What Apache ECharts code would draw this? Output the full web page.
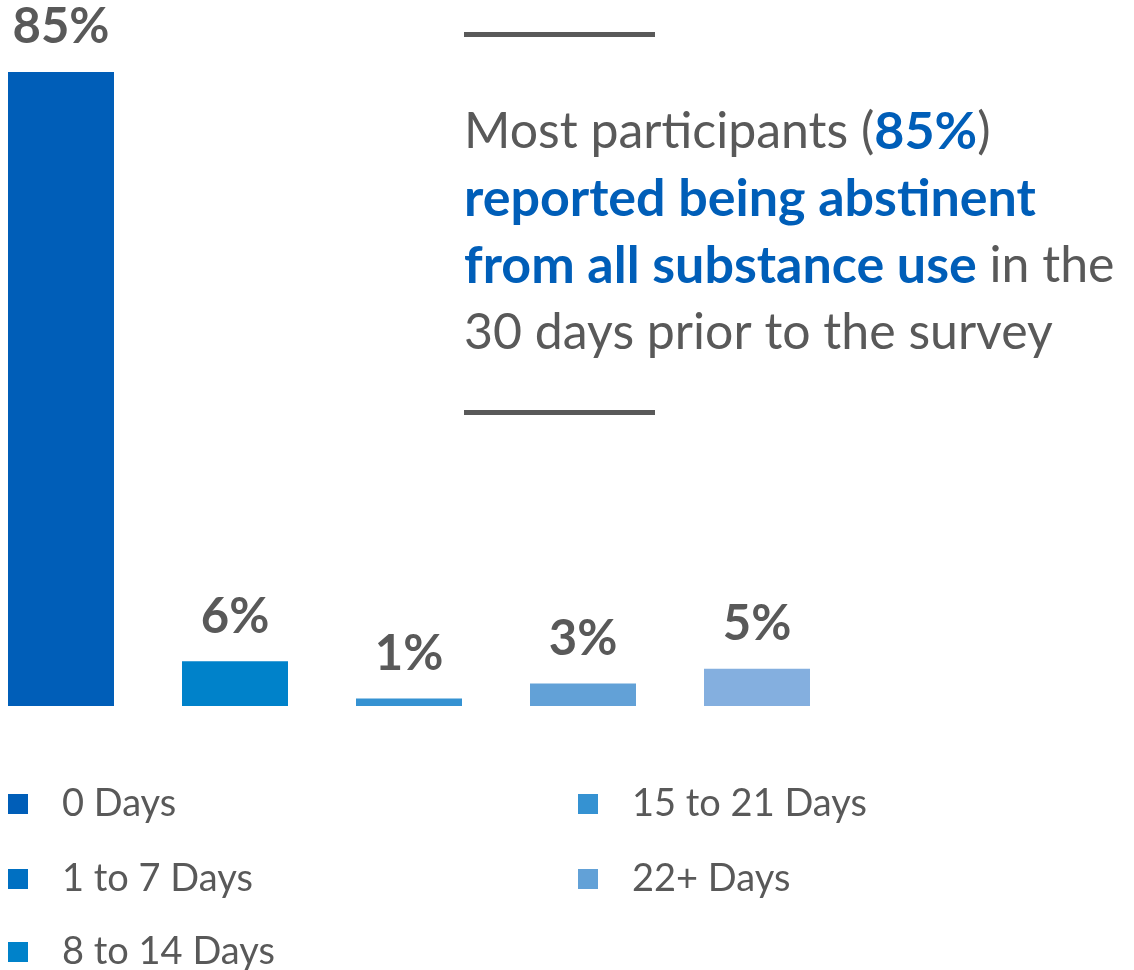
<!DOCTYPE html>
<html>
<head>
<meta charset="utf-8">
<script src="https://cdn.jsdelivr.net/npm/echarts@6/dist/echarts.min.js"></script>
<style>
  html, body { margin: 0; padding: 0; background: #fff; }
  #main { width: 1134px; height: 970px; }
</style>
</head>
<body>
<div id="main"></div>
<script>
  // categories and values
  const categories = ['0 Days', '1 to 7 Days', '8 to 14 Days', '15 to 21 Days', '22+ Days'];
  const values = [85, 6, 1, 3, 5];
  const barColors = ['#005EB8', '#0082CA', '#3592D2', '#62A1D7', '#84AFDF'];
  const legendColors = ['#005EB8', '#0070C2', '#0082CA', '#3592D2', '#62A1D7'];

  const grey = '#595959';
  const blue = '#005EB8';
  const font = 'Lato';

  // where each legend entry sits (two columns)
  const legendSpots = [[8, 785], [8, 860], [8, 933], [578, 785], [578, 860]];

  const myChart = echarts.init(document.getElementById('main'));

  // one series per category so each shows in the legend
  const series = categories.map((name, i) => ({
    name: name,
    type: 'bar',
    stack: 'all',
    barWidth: 106,
    itemStyle: { color: barColors[i] },
    label: {
      show: true,
      position: 'top',
      distance: 20,
      formatter: '{c}%',
      color: grey,
      fontFamily: font,
      fontWeight: 'bold',
      fontSize: 49
    },
    data: values.map((v, j) => (j === i ? v : '-'))
  }));

  const legends = categories.map((name, i) => ({
    left: legendSpots[i][0], top: legendSpots[i][1], padding: 0,
    icon: 'rect', itemWidth: 20, itemHeight: 20,
    textStyle: { color: grey, fontFamily: font, fontSize: 38, lineHeight: 34, padding: [0, 0, 0, 29] },
    data: [{ name: name, itemStyle: { color: legendColors[i] } }]
  }));

  myChart.setOption({
    animation: false,
    grid: { left: 61, width: 696, top: 72, bottom: 264, containLabel: false },
    xAxis: {
      type: 'category',
      data: categories,
      boundaryGap: false,
      show: false
    },
    yAxis: { type: 'value', min: 0, max: 85, show: false },
    legend: legends,
    graphic: [
      { type: 'rect', left: 464, top: 32, shape: { width: 191, height: 5 }, style: { fill: grey } },
      { type: 'rect', left: 464, top: 410, shape: { width: 191, height: 5 }, style: { fill: grey } },
      {
        type: 'text', left: 464, top: 106,
        style: {
          text: '{n|Most participants (}{b|85%}{n|)}\n' +
                '{b|reported being abstinent}\n' +
                '{b|from all substance use}{n| in the}\n' +
                '{n|30 days prior to the survey}',
          fill: grey,
          rich: {
            n: { fontFamily: font, fontSize: 50, fill: grey, lineHeight: 67 },
            b: { fontFamily: font, fontSize: 52, fontWeight: 'bold', fill: blue, lineHeight: 67 }
          }
        }
      }
    ],
    series: series
  });
</script>
</body>
</html>
